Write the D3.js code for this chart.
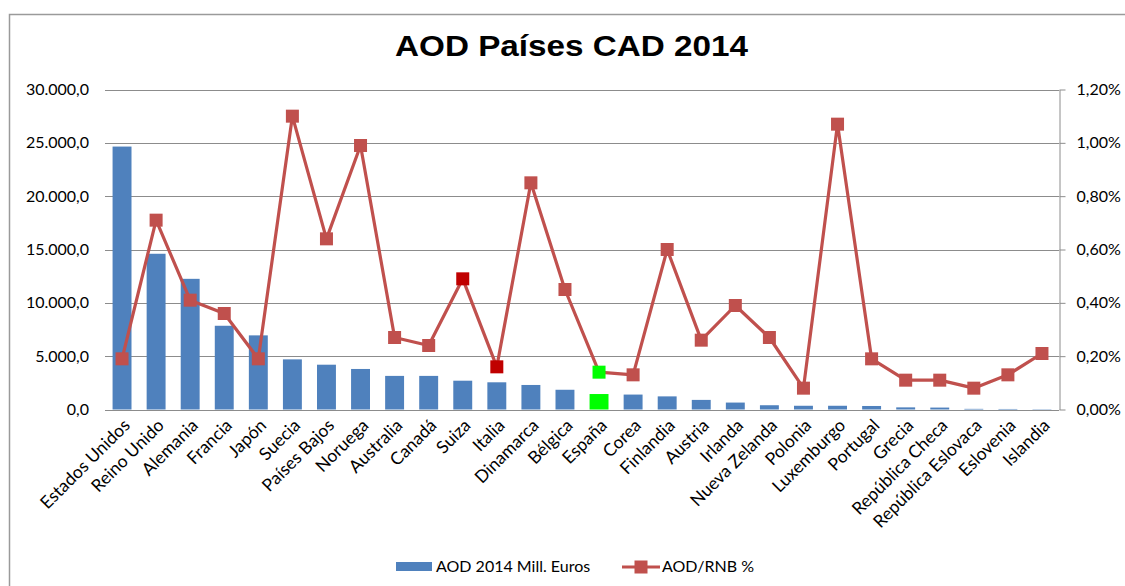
<!DOCTYPE html>
<html>
<head>
<meta charset="utf-8">
<script src="https://cdn.jsdelivr.net/npm/d3@7"></script>
<style>
  body { margin: 0; background: #fff; }
  svg text { font-family: Lato, "Open Sans", sans-serif; fill: #000; }
</style>
</head>
<body>
<div id="chart"></div>
<script>
// data
var countries = ["Estados Unidos", "Reino Unido", "Alemania", "Francia", "Japón", "Suecia",
    "Países Bajos", "Noruega", "Australia", "Canadá", "Suiza", "Italia", "Dinamarca", "Bélgica",
    "España", "Corea", "Finlandia", "Austria", "Irlanda", "Nueva Zelanda", "Polonia", "Luxemburgo",
    "Portugal", "Grecia", "República Checa", "República Eslovaca", "Eslovenia", "Islandia"];
var aod = [24650, 14600, 12250, 7850, 6950, 4700, 4200, 3800, 3150, 3150, 2700, 2550, 2300, 1850,
    1450, 1400, 1230, 900, 650, 400, 350, 350, 330, 200, 180, 60, 50, 30];
var aodRnb = [0.0019, 0.0071, 0.0041, 0.0036, 0.0019, 0.0110, 0.0064, 0.0099, 0.0027, 0.0024,
    0.0049, 0.0016, 0.0085, 0.0045, 0.0014, 0.0013, 0.0060, 0.0026, 0.0039, 0.0027, 0.0008,
    0.0107, 0.0019, 0.0011, 0.0011, 0.0008, 0.0013, 0.0021];
var leftTicks = [0, 5000, 10000, 15000, 20000, 25000, 30000];
var rightTicks = [0, 0.002, 0.004, 0.006, 0.008, 0.010, 0.012];
var highlightRed = ["Suiza", "Italia"];
var highlightGreen = ["España"];

var width = 1125, height = 586;
var plotL = 105, plotR = 1059, plotT = 89.5, plotB = 409.5;

var es = d3.formatLocale({decimal: ",", thousands: ".", grouping: [3], currency: ["", "€"]});
var fmtLeft = es.format(",.1f");
var fmtRight = es.format(".2%");

var svg = d3.select("#chart")
    .append("svg")
    .attr("width", width)
    .attr("height", height);

// chart border (runs off the right and bottom edges)
svg.append("rect")
    .attr("x", 9.5).attr("y", 14.5)
    .attr("width", 1130).attr("height", 600)
    .attr("fill", "none")
    .attr("stroke", "#9a9a9a")
    .attr("stroke-width", 1.5);

svg.append("text")
    .attr("x", 571.5).attr("y", 56)
    .attr("text-anchor", "middle")
    .attr("textLength", 353)
    .attr("lengthAdjust", "spacingAndGlyphs")
    .style("font-family", "'Liberation Sans', Arial, sans-serif")
    .style("font-weight", "bold")
    .style("font-size", "29px")
    .text("AOD Países CAD 2014");

var x = d3.scaleBand().domain(countries).range([plotL, plotR]).padding(0);
var y = d3.scaleLinear().domain([0, 30000]).range([plotB, plotT]);
var y2 = d3.scaleLinear().domain([0, 0.012]).range([plotB, plotT]);

// gridlines
svg.append("g")
    .selectAll("line")
    .data(leftTicks)
    .enter()
    .append("line")
    .attr("x1", plotL).attr("x2", plotR)
    .attr("y1", function(d) { return Math.round(y(d)) + 0.5; })
    .attr("y2", function(d) { return Math.round(y(d)) + 0.5; })
    .attr("stroke", "#8c8c8c")
    .attr("stroke-width", 1);

// left axis (labels only)
var gl = svg.append("g")
    .attr("transform", "translate(" + plotL + ",0)")
    .call(d3.axisLeft(y).tickValues(leftTicks).tickFormat(fmtLeft).tickSize(0).tickPadding(16));
gl.select(".domain").remove();
gl.selectAll("text").style("font-size", "16px");

// right axis
var gr = svg.append("g")
    .attr("transform", "translate(" + (plotR + 0.5) + ",0)")
    .call(d3.axisRight(y2).tickValues(rightTicks).tickFormat(fmtRight).tickSizeOuter(0).tickSizeInner(6).tickPadding(11));
gr.select(".domain").attr("stroke", "#8c8c8c");
gr.selectAll(".tick line").attr("stroke", "#8c8c8c");
gr.selectAll("text").style("font-size", "16px");

// bars
var barW = x.bandwidth() / 1.8;
svg.append("g")
    .selectAll("rect")
    .data(countries)
    .enter()
    .append("rect")
    .attr("x", function(d) { return x(d) + (x.bandwidth() - barW) / 2; })
    .attr("y", function(d, i) { return y(aod[i]); })
    .attr("width", barW)
    .attr("height", function(d, i) { return plotB - y(aod[i]); })
    .attr("fill", function(d) { return highlightGreen.indexOf(d) >= 0 ? "#00ff00" : "#4f81bd"; });

// x axis labels, turned 45 degrees
var gx = svg.append("g")
    .attr("transform", "translate(0," + plotB + ")")
    .call(d3.axisBottom(x).tickSize(0).tickPadding(0));
gx.select(".domain").remove();
gx.selectAll("text")
    .style("font-size", "17.5px")
    .attr("text-anchor", "end")
    .attr("dy", 0)
    .attr("y", 0)
    .attr("transform", "translate(9,17) rotate(-45)");

// line
var cx = function(d) { return x(d) + x.bandwidth() / 2; };
var line = d3.line()
    .x(function(d, i) { return cx(countries[i]); })
    .y(function(d) { return y2(d); });

svg.append("path")
    .datum(aodRnb)
    .attr("d", line)
    .attr("fill", "none")
    .attr("stroke", "#c0504d")
    .attr("stroke-width", 3.2)
    .attr("stroke-linejoin", "round");

var ms = 13;
svg.append("g")
    .selectAll("rect")
    .data(countries)
    .enter()
    .append("rect")
    .attr("x", function(d) { return cx(d) - ms / 2; })
    .attr("y", function(d, i) { return y2(aodRnb[i]) - ms / 2; })
    .attr("width", ms).attr("height", ms)
    .attr("fill", function(d) {
        if (highlightGreen.indexOf(d) >= 0) return "#00ff00";
        if (highlightRed.indexOf(d) >= 0) return "#c00000";
        return "#c0504d";
    });

// legend
var lg = svg.append("g");
lg.append("rect")
    .attr("x", 396).attr("y", 562).attr("width", 36).attr("height", 9)
    .attr("fill", "#4f81bd");
lg.append("text")
    .attr("x", 436).attr("y", 572)
    .style("font-size", "16px")
    .text("AOD 2014 Mill. Euros");
lg.append("line")
    .attr("x1", 622).attr("x2", 660).attr("y1", 567).attr("y2", 567)
    .attr("stroke", "#c0504d").attr("stroke-width", 3);
lg.append("rect")
    .attr("x", 641 - ms / 2).attr("y", 567 - ms / 2).attr("width", ms).attr("height", ms)
    .attr("fill", "#c0504d");
lg.append("text")
    .attr("x", 662).attr("y", 572)
    .style("font-size", "16px")
    .text("AOD/RNB %");
</script>
</body>
</html>
